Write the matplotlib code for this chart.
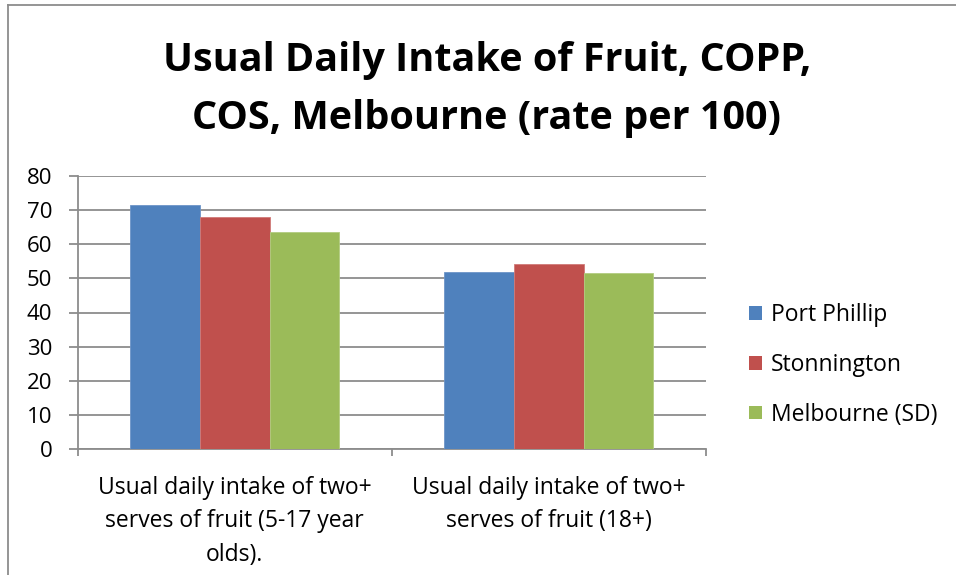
import matplotlib
matplotlib.use("Agg")
import matplotlib.pyplot as plt
import numpy as np
from matplotlib.patches import Patch
from matplotlib.lines import Line2D

categories = ["Usual daily intake of two+\nserves of fruit (5-17 year\nolds).",
              "Usual daily intake of two+\nserves of fruit (18+)"]
series_names = ["Port Phillip", "Stonnington", "Melbourne (SD)"]
port_phillip = [71.4, 51.8]
stonnington = [67.8, 54.1]
melbourne_sd = [63.6, 51.6]
yticks = [0, 10, 20, 30, 40, 50, 60, 70, 80]
title = "Usual Daily Intake of Fruit, COPP,\nCOS, Melbourne (rate per 100)"

colors = ["#4F81BD", "#C0504D", "#9BBB59"]
edge = ["#6d95c8", "#d07a78", "#b2cc80"]
FONT = "Open Sans"
GRID = "#8c8c8c"

W, H = 956, 575
fig = plt.figure(figsize=(W / 100, H / 100), dpi=100)
ax = fig.add_axes([77.7 / W, 1 - 449.3 / H, (705.7 - 77.7) / W, (449.3 - 175.7) / H])

x = np.arange(len(categories))
bw = 1 / 4.5
data = [port_phillip, stonnington, melbourne_sd]
for i, (vals, name) in enumerate(zip(data, series_names)):
    ax.bar(x + (i - 1) * bw, vals, width=bw, color=colors[i], edgecolor=edge[i],
           linewidth=0.6, label=name, zorder=3)

ax.set_xlim(-0.5, len(categories) - 0.5)
ax.set_ylim(0, 80)
ax.set_yticks(yticks)
ax.set_yticklabels([str(v) for v in yticks], fontsize=16, family=FONT)
ax.yaxis.grid(True, color=GRID, linewidth=1.3, zorder=0)
ax.set_axisbelow(True)
for s in ["top", "right"]:
    ax.spines[s].set_visible(False)
for s in ["left", "bottom"]:
    ax.spines[s].set_color(GRID)
    ax.spines[s].set_linewidth(1.3)
ax.tick_params(axis="y", length=6.3, color=GRID, width=1.3, pad=12)
ax.set_xticks([-0.5, 0.5, 1.5], minor=False)
ax.set_xticklabels([])
ax.tick_params(axis="x", which="major", length=5, color=GRID, width=1.3, direction="out")
ax.set_xticks(x, minor=True)
ax.set_xticklabels(categories, minor=True, fontsize=16.5, family=FONT, linespacing=1.53)
ax.tick_params(axis="x", which="minor", length=0, pad=19)

fig.text(487 / W, 1 - 89.5 / H, title, ha="center", va="center", fontsize=28.5,
         fontweight="bold", family=FONT, linespacing=1.64)

handles = [Patch(facecolor=c, edgecolor="none") for c in colors]
leg = fig.legend(handles, series_names, loc="center left", bbox_to_anchor=(749 / W, 1 - 365 / H),
                 frameon=False, prop={"family": FONT, "size": 16.5}, handlelength=0.55,
                 handleheight=0.55, handletextpad=0.4, labelspacing=1.12,
                 borderpad=0, borderaxespad=0)

# outer frame (left and top)
fig.add_artist(Line2D([8 / W, 8 / W], [0, 1 - 5 / H], color=GRID, lw=1.3, transform=fig.transFigure))
fig.add_artist(Line2D([8 / W, 1], [1 - 5 / H, 1 - 5 / H], color=GRID, lw=1.3, transform=fig.transFigure))

fig.savefig("out.png", dpi=100)
